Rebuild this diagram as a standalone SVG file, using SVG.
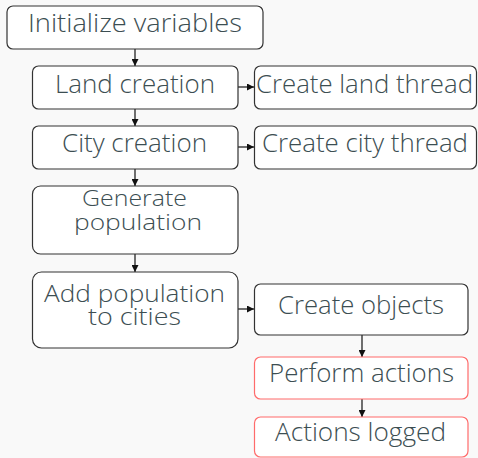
<svg xmlns="http://www.w3.org/2000/svg" width="478" height="458" viewBox="0 0 478 458">
<style>
.bg{fill:#f9f9f9}
.box{fill:#ffffff;stroke:#333333;stroke-width:1.2}
.red{fill:#ffffff;stroke:#ff6b6b;stroke-width:1.2}
text{font-family:"Open Sans","Noto Sans",sans-serif;font-weight:300;font-size:25px;fill:#3c4e52;text-anchor:middle}
text.sm{font-size:22px}
text.md{font-size:23px}
.edge{stroke:#111111;stroke-width:1.2;fill:none;marker-end:url(#ah)}
</style>
<defs>
<marker id="ah" viewBox="0 0 10 10" refX="10" refY="5" markerWidth="7" markerHeight="7" orient="auto" markerUnits="userSpaceOnUse">
<path d="M0,0 L10,5 L0,10 z" fill="#111111"/>
</marker>
</defs>
<rect class="bg" x="0" y="0" width="478" height="458"/>
<g id="connectors">
<line class="edge" x1="135" y1="49" x2="135" y2="66"/>
<line class="edge" x1="135" y1="109" x2="135" y2="126"/>
<line class="edge" x1="135" y1="169" x2="135" y2="186"/>
<line class="edge" x1="135" y1="254" x2="135" y2="272"/>
<line class="edge" x1="238" y1="87" x2="254" y2="87"/>
<line class="edge" x1="238" y1="147" x2="254" y2="147"/>
<line class="edge" x1="238" y1="309" x2="254" y2="309"/>
<line class="edge" x1="362" y1="335" x2="362" y2="357"/>
<line class="edge" x1="362" y1="399" x2="362" y2="417"/>
</g>
<g id="init">
<rect class="box" x="7" y="6" width="256" height="43" rx="6"/>
<text x="135" y="32" textLength="214" lengthAdjust="spacingAndGlyphs">Initialize variables</text>
</g>
<g id="land">
<rect class="box" x="32.5" y="66" width="205.5" height="43" rx="6"/>
<text x="135" y="93" textLength="160" lengthAdjust="spacingAndGlyphs">Land creation</text>
</g>
<g id="landthread">
<rect class="box" x="254.5" y="66" width="222" height="43" rx="6"/>
<text x="364.5" y="93" textLength="217" lengthAdjust="spacingAndGlyphs">Create land thread</text>
</g>
<g id="city">
<rect class="box" x="32.5" y="126" width="205.5" height="43" rx="6"/>
<text x="134.5" y="152" textLength="145" lengthAdjust="spacingAndGlyphs">City creation</text>
</g>
<g id="citythread">
<rect class="box" x="254.5" y="126" width="222" height="43" rx="6"/>
<text x="365" y="152" textLength="206" lengthAdjust="spacingAndGlyphs">Create city thread</text>
</g>
<g id="genpop">
<rect class="box" x="32.5" y="186" width="205.5" height="68" rx="8"/>
<text class="sm" x="134.5" y="206" textLength="105" lengthAdjust="spacingAndGlyphs">Generate</text>
<text class="sm" x="138" y="230" textLength="128" lengthAdjust="spacingAndGlyphs">population</text>
</g>
<g id="addpop">
<rect class="box" x="32.5" y="272" width="205.5" height="76" rx="9"/>
<text class="md" x="134.5" y="302" textLength="181" lengthAdjust="spacingAndGlyphs">Add population</text>
<text class="md" x="134.5" y="325" textLength="93" lengthAdjust="spacingAndGlyphs">to cities</text>
</g>
<g id="objects">
<rect class="box" x="254.5" y="284" width="213.5" height="51" rx="6"/>
<text x="361" y="314" textLength="166" lengthAdjust="spacingAndGlyphs">Create objects</text>
</g>
<g id="perform">
<rect class="red" x="254.5" y="357" width="213.5" height="42" rx="6"/>
<text x="361.5" y="382" textLength="185" lengthAdjust="spacingAndGlyphs">Perform actions</text>
</g>
<g id="logged">
<rect class="red" x="254.5" y="417" width="213.5" height="40" rx="6"/>
<text x="360.5" y="441" textLength="171" lengthAdjust="spacingAndGlyphs">Actions logged</text>
</g>
</svg>
